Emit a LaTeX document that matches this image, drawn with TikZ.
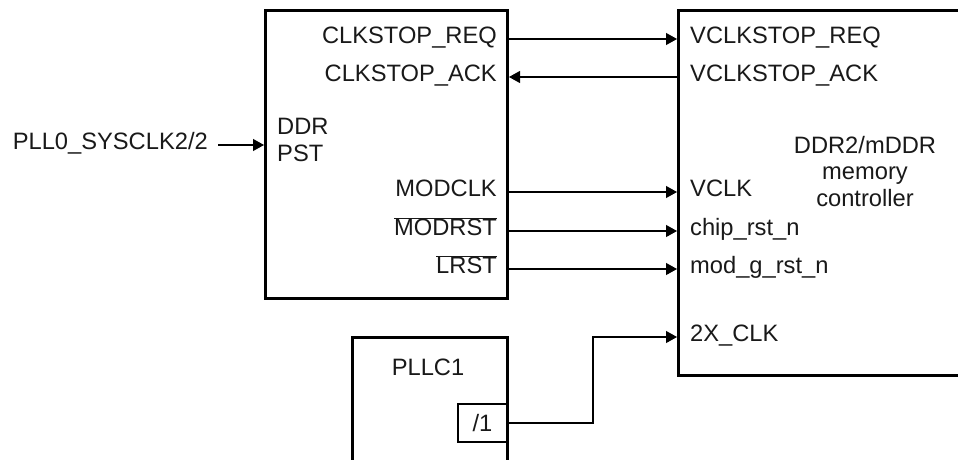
\documentclass[tikz,border=0pt]{standalone}
\usepackage{fontspec}
\setmainfont{Liberation Sans}
\usetikzlibrary{arrows.meta}
\begin{document}
\begin{tikzpicture}[x=1pt,y=-1pt,
  every node/.style={font=\fontsize{23.7}{26.5}\selectfont, text=black!90},
  block/.style={draw, line width=3pt, inner sep=0pt, anchor=north west},
  pin/.style={inner sep=0pt, text height=0.95em, text depth=0pt},
  sig/.style={line width=1.1pt, -{Triangle[length=11pt,width=12pt]}}]
\useasboundingbox (0,0) rectangle (958,460);
\clip (0,0) rectangle (958,460);
% blocks
\node[block, minimum width=242pt, minimum height=288pt] (pst) at (264,9) {};
\node[block, minimum width=420pt, minimum height=365pt] (mc) at (677,9) {};
\node[block, minimum width=155pt, minimum height=200pt] (pllc) at (351,336) {};
\node[draw, line width=1.1pt, minimum width=49pt, minimum height=38pt, inner sep=0pt, outer sep=0pt, anchor=north east] (div) at (507,404) {/1};
% block titles
\node[anchor=north west, align=left, inner sep=0pt] (pstname) at (277,118) {DDR\\PST};
\node[anchor=north, align=center, inner sep=0pt] (mcname) at (865,136) {DDR2/mDDR\\memory\\controller};
\node[anchor=base, inner sep=0pt] (pllname) at (428,375) {PLLC1};
% left pins
\node[pin, anchor=east] (req) at (497,39) {CLKSTOP\_REQ};
\node[pin, anchor=east] (ack) at (497,77) {CLKSTOP\_ACK};
\node[pin, anchor=east] (modclk) at (497,192) {MODCLK};
\node[pin, anchor=east] (modrst) at (497,231) {$\overline{\hbox{MODRST}}$};
\node[pin, anchor=east] (lrst) at (497,269) {$\overline{\hbox{LRST}}$};
% right pins
\node[pin, anchor=west] (vreq) at (690,39) {VCLKSTOP\_REQ};
\node[pin, anchor=west] (vack) at (690,77) {VCLKSTOP\_ACK};
\node[pin, anchor=west] (vclk) at (690,192) {VCLK};
\node[pin, anchor=west] (chiprst) at (690,231) {chip\_rst\_n};
\node[pin, anchor=west] (modg) at (690,269) {mod\_g\_rst\_n};
\node[pin, anchor=west] (x2clk) at (690,337) {2X\_CLK};
% input
\node[pin, anchor=east] (pll0) at (208,145) {PLL0\_SYSCLK2/2};
% connectors
\draw[sig] ([xshift=10pt]pll0.east) -- (pst.west |- pll0);
\draw[sig] (pst.east |- req) -- (mc.west |- vreq);
\draw[sig] (mc.west |- vack) -- (pst.east |- ack);
\draw[sig] (pst.east |- modclk) -- (mc.west |- vclk);
\draw[sig] (pst.east |- modrst) -- (mc.west |- chiprst);
\draw[sig] (pst.east |- lrst) -- (mc.west |- modg);
\coordinate (jog) at (593,337);
\draw[sig] (div.east) -| (jog) -- (mc.west |- x2clk);
\end{tikzpicture}
\end{document}
